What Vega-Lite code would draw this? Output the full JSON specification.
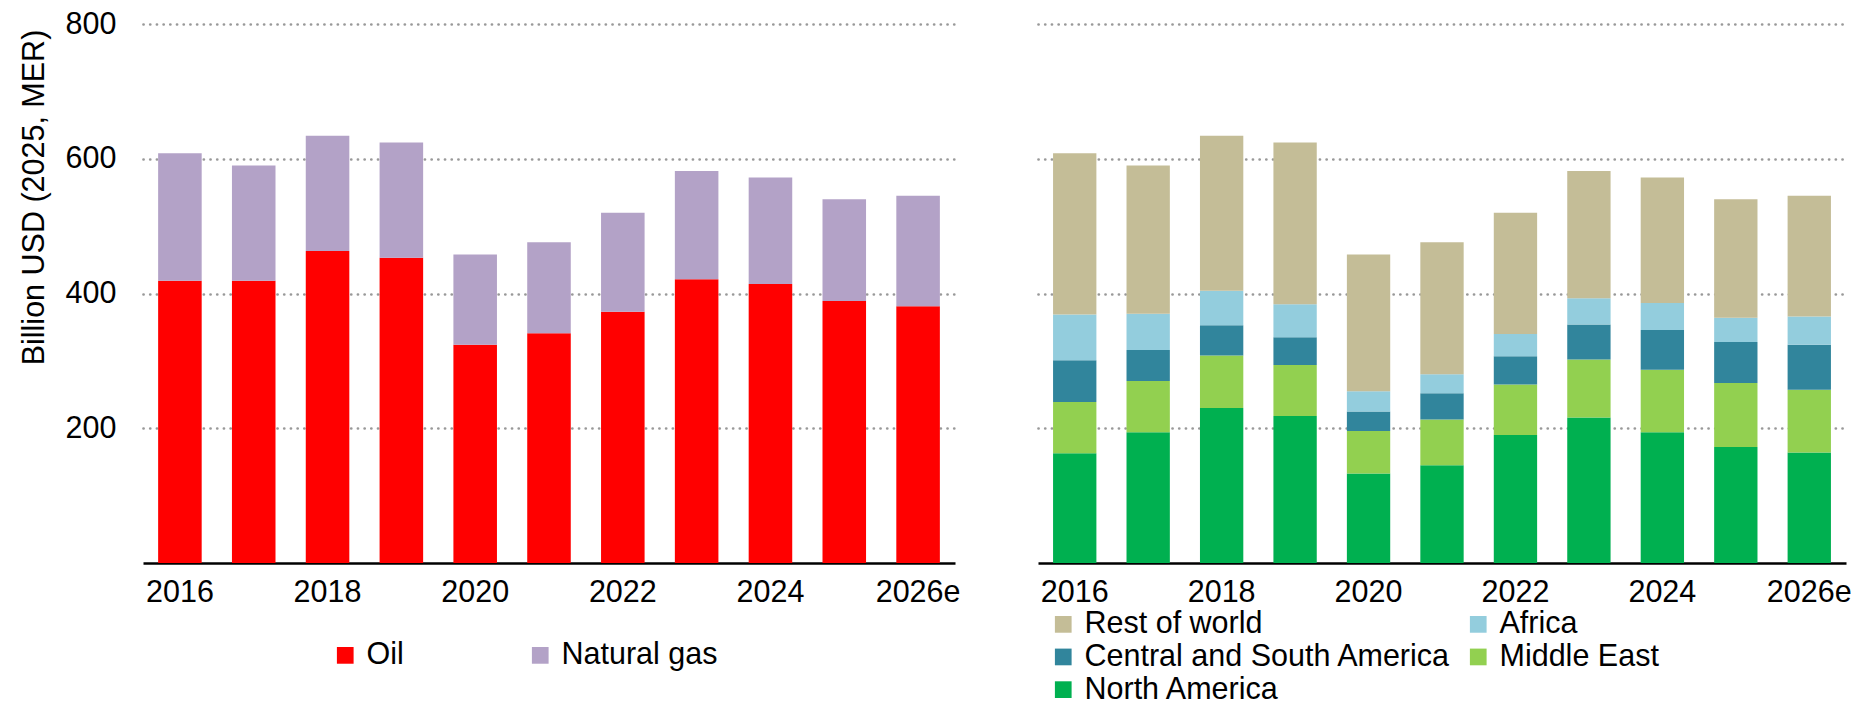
{
  "$schema": "https://vega.github.io/schema/vega-lite/v6.json",
  "padding": {"left": 18, "top": 9, "right": 0, "bottom": 0},
  "spacing": 78,
  "background": "white",
  "config": {
    "font": "Liberation Sans",
    "view": {"stroke": null},
    "axis": {
      "labelFontSize": 30.5,
      "labelColor": "#000",
      "titleColor": "#000",
      "titleFontSize": 30.5,
      "titleFontWeight": "normal",
      "ticks": false,
      "tickSize": 0
    },
    "legend": {
      "labelFontSize": 30.5,
      "labelColor": "#000",
      "symbolType": "square",
      "symbolSize": 279,
      "symbolStrokeWidth": 0,
      "labelOffset": 6,
      "labelLimit": 600,
      "padding": 0,
      "title": null
    }
  },
  "datasets": {
    "fuel": [
      {"year": "2016", "fuel": "Oil", "value": 419},
      {"year": "2016", "fuel": "Natural gas", "value": 189},
      {"year": "2017", "fuel": "Oil", "value": 419},
      {"year": "2017", "fuel": "Natural gas", "value": 171},
      {"year": "2018", "fuel": "Oil", "value": 463},
      {"year": "2018", "fuel": "Natural gas", "value": 171},
      {"year": "2019", "fuel": "Oil", "value": 453},
      {"year": "2019", "fuel": "Natural gas", "value": 171},
      {"year": "2020", "fuel": "Oil", "value": 324},
      {"year": "2020", "fuel": "Natural gas", "value": 134},
      {"year": "2021", "fuel": "Oil", "value": 341},
      {"year": "2021", "fuel": "Natural gas", "value": 135},
      {"year": "2022", "fuel": "Oil", "value": 373},
      {"year": "2022", "fuel": "Natural gas", "value": 147},
      {"year": "2023", "fuel": "Oil", "value": 421},
      {"year": "2023", "fuel": "Natural gas", "value": 161},
      {"year": "2024", "fuel": "Oil", "value": 414},
      {"year": "2024", "fuel": "Natural gas", "value": 158},
      {"year": "2025", "fuel": "Oil", "value": 389},
      {"year": "2025", "fuel": "Natural gas", "value": 151},
      {"year": "2026e", "fuel": "Oil", "value": 381},
      {"year": "2026e", "fuel": "Natural gas", "value": 164}
    ],
    "regionOrder": [
      {"region": "North America", "rank": 1},
      {"region": "Middle East", "rank": 2},
      {"region": "Central and South America", "rank": 3},
      {"region": "Africa", "rank": 4},
      {"region": "Rest of world", "rank": 5}
    ],
    "region": [
      {"year": "2016", "region": "North America", "value": 163},
      {"year": "2016", "region": "Middle East", "value": 76},
      {"year": "2016", "region": "Central and South America", "value": 62},
      {"year": "2016", "region": "Africa", "value": 68},
      {"year": "2016", "region": "Rest of world", "value": 239},
      {"year": "2017", "region": "North America", "value": 194},
      {"year": "2017", "region": "Middle East", "value": 76},
      {"year": "2017", "region": "Central and South America", "value": 46},
      {"year": "2017", "region": "Africa", "value": 54},
      {"year": "2017", "region": "Rest of world", "value": 220},
      {"year": "2018", "region": "North America", "value": 230},
      {"year": "2018", "region": "Middle East", "value": 78},
      {"year": "2018", "region": "Central and South America", "value": 45},
      {"year": "2018", "region": "Africa", "value": 51},
      {"year": "2018", "region": "Rest of world", "value": 230},
      {"year": "2019", "region": "North America", "value": 218},
      {"year": "2019", "region": "Middle East", "value": 76},
      {"year": "2019", "region": "Central and South America", "value": 41},
      {"year": "2019", "region": "Africa", "value": 49},
      {"year": "2019", "region": "Rest of world", "value": 240},
      {"year": "2020", "region": "North America", "value": 133},
      {"year": "2020", "region": "Middle East", "value": 63},
      {"year": "2020", "region": "Central and South America", "value": 29},
      {"year": "2020", "region": "Africa", "value": 30},
      {"year": "2020", "region": "Rest of world", "value": 203},
      {"year": "2021", "region": "North America", "value": 145},
      {"year": "2021", "region": "Middle East", "value": 68},
      {"year": "2021", "region": "Central and South America", "value": 39},
      {"year": "2021", "region": "Africa", "value": 28},
      {"year": "2021", "region": "Rest of world", "value": 196},
      {"year": "2022", "region": "North America", "value": 190},
      {"year": "2022", "region": "Middle East", "value": 75},
      {"year": "2022", "region": "Central and South America", "value": 42},
      {"year": "2022", "region": "Africa", "value": 33},
      {"year": "2022", "region": "Rest of world", "value": 180},
      {"year": "2023", "region": "North America", "value": 216},
      {"year": "2023", "region": "Middle East", "value": 86},
      {"year": "2023", "region": "Central and South America", "value": 52},
      {"year": "2023", "region": "Africa", "value": 39},
      {"year": "2023", "region": "Rest of world", "value": 189},
      {"year": "2024", "region": "North America", "value": 194},
      {"year": "2024", "region": "Middle East", "value": 93},
      {"year": "2024", "region": "Central and South America", "value": 59},
      {"year": "2024", "region": "Africa", "value": 40},
      {"year": "2024", "region": "Rest of world", "value": 186},
      {"year": "2025", "region": "North America", "value": 172},
      {"year": "2025", "region": "Middle East", "value": 95},
      {"year": "2025", "region": "Central and South America", "value": 61},
      {"year": "2025", "region": "Africa", "value": 36},
      {"year": "2025", "region": "Rest of world", "value": 176},
      {"year": "2026e", "region": "North America", "value": 164},
      {"year": "2026e", "region": "Middle East", "value": 93},
      {"year": "2026e", "region": "Central and South America", "value": 67},
      {"year": "2026e", "region": "Africa", "value": 42},
      {"year": "2026e", "region": "Rest of world", "value": 179}
    ]
  },
  "resolve": {"scale": {"color": "independent"}, "legend": {"color": "independent"}},
  "hconcat": [
    {
      "width": 812,
      "height": 539,
      "data": {"name": "fuel"},
      "mark": {"type": "bar"},
      "encoding": {
        "x": {
          "field": "year", "type": "nominal", "sort": null,
          "scale": {"paddingInner": 0.41, "paddingOuter": 0.205},
          "axis": {
            "title": null, "labelAngle": 0, "labelPadding": 14,
            "values": ["2016", "2018", "2020", "2022", "2024", "2026e"],
            "domain": true, "domainColor": "#000", "domainWidth": 2.3, "grid": false
          }
        },
        "y": {
          "field": "value", "type": "quantitative", "stack": "zero",
          "scale": {"domain": [0, 800], "nice": false},
          "axis": {
            "title": "Billion USD (2025, MER)",
            "values": [200, 400, 600, 800],
            "domain": false, "labelPadding": 27,
            "titleX": -100, "titleY": 173, "titleBaseline": "alphabetic", "titleAlign": "center",
            "grid": true, "gridColor": "#999999", "gridDash": [0.1, 6.6], "gridCap": "round", "gridWidth": 2.7
          }
        },
        "color": {
          "field": "fuel", "type": "nominal",
          "sort": ["Oil", "Natural gas"],
          "scale": {"range": ["#FF0000", "#B3A2C7"]},
          "legend": {
            "orient": "none", "legendX": 187, "legendY": 616,
            "direction": "horizontal", "columns": 2, "columnPadding": 121
          }
        }
      }
    },
    {
      "width": 808,
      "height": 539,
      "data": {"name": "region"},
      "transform": [
        {"lookup": "region", "from": {"data": {"name": "regionOrder"}, "key": "region", "fields": ["rank"]}}
      ],
      "mark": {"type": "bar"},
      "encoding": {
        "x": {
          "field": "year", "type": "nominal", "sort": null,
          "scale": {"paddingInner": 0.41, "paddingOuter": 0.205},
          "axis": {
            "title": null, "labelAngle": 0, "labelPadding": 14,
            "values": ["2016", "2018", "2020", "2022", "2024", "2026e"],
            "domain": true, "domainColor": "#000", "domainWidth": 2.3, "grid": false
          }
        },
        "y": {
          "field": "value", "type": "quantitative", "stack": "zero",
          "scale": {"domain": [0, 800], "nice": false},
          "axis": {
            "title": null, "labels": false,
            "values": [200, 400, 600, 800],
            "domain": false,
            "grid": true, "gridColor": "#999999", "gridDash": [0.1, 6.6], "gridCap": "round", "gridWidth": 2.7
          }
        },
        "order": {"field": "rank", "type": "quantitative", "sort": "ascending"},
        "color": {
          "field": "region", "type": "nominal",
          "sort": ["North America", "Middle East", "Central and South America", "Africa", "Rest of world"],
          "scale": {"range": ["#00B050", "#92D050", "#31859C", "#93CDDD", "#C4BD97"]},
          "legend": {
            "orient": "none", "legendX": 10, "legendY": 585,
            "direction": "horizontal", "columns": 2, "columnPadding": 12, "rowPadding": 1.7,
            "values": ["Rest of world", "Africa", "Central and South America", "Middle East", "North America"]
          }
        }
      }
    }
  ]
}
